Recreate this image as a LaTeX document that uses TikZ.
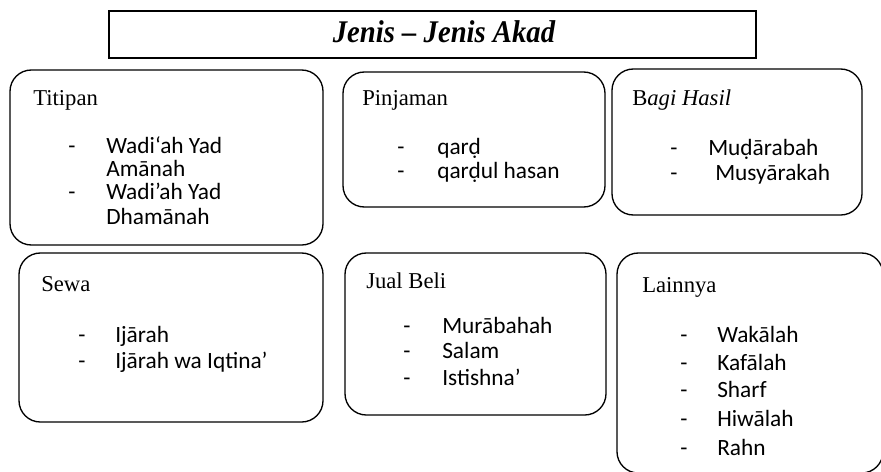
\documentclass[tikz,border=0pt]{standalone}
\usepackage{fontspec}
\setmainfont{Liberation Serif}
\newfontfamily\itemfont{Carlito}
\begin{document}
\begin{tikzpicture}[x=0.75pt,y=-0.75pt,
  akadbox/.style={draw=black, line width=1pt, rounded corners=16pt},
  titlebox/.style={draw=black, line width=1.3pt},
  head/.style={anchor=base west, inner sep=0pt, font=\fontsize{17}{20}\selectfont},
  dashmark/.style={anchor=base west, inner sep=0pt, font=\itemfont\fontsize{17.5}{18}\selectfont},
  entry/.style={anchor=base west, inner sep=0pt,
    font=\itemfont\fontsize{17.5}{18}\selectfont},
]
\useasboundingbox (0,0) rectangle (881,471);

% heading bar
\draw[titlebox] (109,11) rectangle (756,58);
\node[anchor=base, inner sep=0pt, yscale=1.1,
      font=\fontsize{21.5}{24}\selectfont\bfseries\itshape]
  (judul) at (444,42) {Jenis -- Jenis Akad};

% group frames
\draw[akadbox] (10,70)   rectangle (323,245);
\draw[akadbox] (343,72)  rectangle (605,207);
\draw[akadbox] (612,69)  rectangle (862,215);
\draw[akadbox] (19,253)  rectangle (323,422);
\draw[akadbox] (345,253) rectangle (606,415);
\draw[akadbox] (617,253) rectangle (883,473);

% Titipan
\node[head] (titipan) at (33,105) {Titipan};
\node[dashmark] (t1d) at (68,153) {-};
\node[entry]    (t1a) at (106,153) {Wadi‘ah Yad};
\node[entry]    (t1b) at (106,176) {Amānah};
\node[dashmark] (t2d) at (68,199) {-};
\node[entry]    (t2a) at (106,199) {Wadi’ah Yad};
\node[entry]    (t2b) at (106,224) {Dhamānah};

% Pinjaman
\node[head] (pinjaman) at (362,105) {Pinjaman};
\node[dashmark] (p1d) at (397,154) {-};
\node[entry]    (p1)  at (437,154) {qar\d{d}};
\node[dashmark] (p2d) at (397,178) {-};
\node[entry]    (p2)  at (437,178) {qar\d{d}ul hasan};

% Bagi Hasil
\node[head] (bagihasil) at (632,105) {B\textit{agi Hasil}};
\node[dashmark] (b1d) at (670,155) {-};
\node[entry]    (b1)  at (708,155) {Mu\d{d}ārabah};
\node[dashmark] (b2d) at (670,180) {-};
\node[entry]    (b2)  at (715,180) {Musyārakah};

% Sewa
\node[head] (sewa) at (41,291) {Sewa};
\node[dashmark] (s1d) at (78,342) {-};
\node[entry]    (s1)  at (115,342) {Ijārah};
\node[dashmark] (s2d) at (78,368) {-};
\node[entry]    (s2)  at (115,368) {Ijārah wa Iqtina’};

% Jual Beli
\node[head] (jualbeli) at (366,288) {Jual Beli};
\node[dashmark] (j1d) at (403,333) {-};
\node[entry]    (j1)  at (442,333) {Murābahah};
\node[dashmark] (j2d) at (403,358) {-};
\node[entry]    (j2)  at (442,358) {Salam};
\node[dashmark] (j3d) at (403,385) {-};
\node[entry]    (j3)  at (442,385) {Istishna’};

% Lainnya
\node[head] (lainnya) at (642,292) {Lainnya};
\node[dashmark] (l1d) at (680,342) {-};
\node[entry]    (l1)  at (717,342) {Wakālah};
\node[dashmark] (l2d) at (680,370) {-};
\node[entry]    (l2)  at (717,370) {Kafālah};
\node[dashmark] (l3d) at (680,397) {-};
\node[entry]    (l3)  at (717,397) {Sharf};
\node[dashmark] (l4d) at (680,426) {-};
\node[entry]    (l4)  at (717,426) {Hiwālah};
\node[dashmark] (l5d) at (680,455) {-};
\node[entry]    (l5)  at (717,455) {Rahn};
\end{tikzpicture}
\end{document}
